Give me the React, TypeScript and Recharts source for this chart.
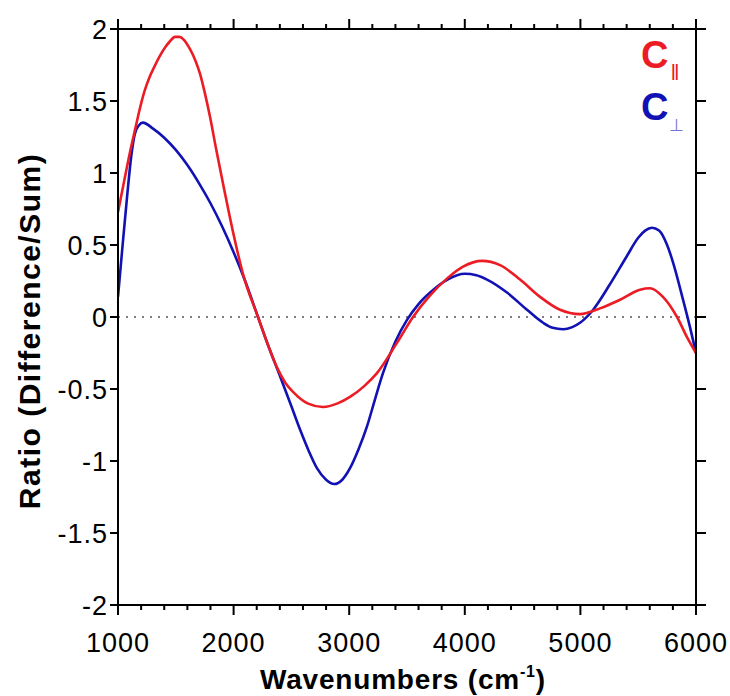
import React from 'react';
import { LineChart, Line, XAxis, YAxis, ReferenceLine, Legend } from 'recharts';

// C parallel (red)
const parallelWavenumbers = [
  1000, 1050, 1100, 1150, 1190, 1230, 1270, 1310, 1360, 1410, 1450, 1493, 1530, 1570, 1623,
  1670, 1709, 1750, 1796, 1848, 1920, 1995, 2081, 2211, 2300, 2375, 2450, 2514, 2640, 2773,
  2900, 3007, 3130, 3240, 3413, 3552, 3700, 3850, 3985, 4149, 4305, 4478, 4651, 4824, 4997,
  5170, 5343, 5516, 5602, 5714, 5836, 5922, 6000,
];
const parallelRatio = [
  0.73, 0.93, 1.13, 1.31, 1.45, 1.57, 1.66, 1.73, 1.81, 1.875, 1.915, 1.945, 1.945, 1.925, 1.86,
  1.78, 1.69, 1.56, 1.39, 1.17, 0.88, 0.59, 0.3, 0.0, -0.2, -0.35, -0.46, -0.52, -0.6, -0.625,
  -0.6, -0.555, -0.48, -0.39, -0.18, 0.0, 0.15, 0.27, 0.35, 0.39, 0.36, 0.26, 0.14, 0.05, 0.02,
  0.06, 0.12, 0.19, 0.2, 0.14, 0.0, -0.14, -0.25,
];

// C perpendicular (blue)
const perpWavenumbers = [
  1000, 1040, 1078, 1115, 1145, 1180, 1216, 1300, 1400, 1500, 1600, 1700, 1800, 1900, 2000,
  2100, 2211, 2300, 2401, 2500, 2574, 2650, 2721, 2800, 2870, 2940, 3007, 3080, 3154, 3220,
  3292, 3400, 3500, 3600, 3700, 3850, 4000, 4100, 4192, 4365, 4538, 4677, 4760, 4850, 4930,
  4997, 5100, 5250, 5400, 5500, 5560, 5619, 5680, 5750, 5801, 5888, 5948, 6000,
];
const perpRatio = [
  0.14, 0.5, 0.83, 1.12, 1.27, 1.33, 1.35, 1.31, 1.245, 1.16, 1.055, 0.93, 0.79, 0.63, 0.45,
  0.25, 0.0, -0.2, -0.41, -0.62, -0.78, -0.93, -1.05, -1.13, -1.16, -1.13, -1.05, -0.92, -0.76, -0.58,
  -0.39, -0.17, -0.02, 0.09, 0.17, 0.26, 0.3, 0.29, 0.26, 0.17, 0.05, -0.04, -0.075, -0.085, -0.07,
  -0.04, 0.04, 0.22, 0.42, 0.55, 0.6, 0.62, 0.6, 0.5, 0.38, 0.12, -0.07, -0.25,
];

const xTicks = [
  1000, 1200, 1400, 1600, 1800, 2000, 2200, 2400, 2600, 2800, 3000, 3200, 3400, 3600, 3800,
  4000, 4200, 4400, 4600, 4800, 5000, 5200, 5400, 5600, 5800, 6000,
];
const yTicks = [-2, -1.5, -1, -0.5, 0, 0.5, 1, 1.5, 2];

const RED = '#ec1c24';
const BLUE = '#1212b4';
const FONT = '"Liberation Sans", Arial, sans-serif';

const parallelData = parallelWavenumbers.map((x, i) => ({ x, y: parallelRatio[i] }));
const perpData = perpWavenumbers.map((x, i) => ({ x, y: perpRatio[i] }));

const isMajor = (v: number) => v % 1000 === 0;

const BottomTick = ({ x, y, payload }: any) => (
  <g>
    <line x1={x} x2={x} y1={y} y2={y + (isMajor(payload.value) ? 10 : 5)} stroke="#000" strokeWidth={2} />
    {isMajor(payload.value) && (
      <text x={x} y={y + 47} textAnchor="middle" fontFamily={FONT} fontSize={27} letterSpacing={1} fill="#000">
        {payload.value}
      </text>
    )}
  </g>
);

const TopTick = ({ x, y, payload }: any) => (
  <line x1={x} x2={x} y1={y} y2={y - (isMajor(payload.value) ? 10 : 5)} stroke="#000" strokeWidth={2} />
);

const LeftTick = ({ x, y, payload }: any) => (
  <g>
    <line x1={x} x2={x - 8} y1={y} y2={y} stroke="#000" strokeWidth={2} />
    <text x={x - 10} y={y + 9.5} textAnchor="end" fontFamily={FONT} fontSize={27} letterSpacing={1} fill="#000">
      {payload.value}
    </text>
  </g>
);

const RightTick = ({ x, y }: any) => (
  <line x1={x} x2={x + 10} y1={y} y2={y} stroke="#000" strokeWidth={2} />
);

const XTitle = ({ viewBox }: any) => (
  <text x={viewBox.x + viewBox.width / 2 - 4} y={viewBox.y + 84} textAnchor="middle" fontFamily={FONT} fontWeight="bold" fontSize={28} letterSpacing={0.8} fill="#000">
    Wavenumbers (cm
    <tspan dy={-12} fontSize={16}>-1</tspan>
    <tspan dy={12}>)</tspan>
  </text>
);

const YTitle = ({ viewBox }: any) => {
  const cx = 29;
  const cy = viewBox.y + viewBox.height / 2 + 14;
  return (
    <text x={cx} y={cy} transform={`rotate(-90 ${cx} ${cy})`} textAnchor="middle" dominantBaseline="central" fontFamily={FONT} fontWeight="bold" fontSize={30} letterSpacing={1.5} fill="#000">
      Ratio (Difference/Sum)
    </text>
  );
};

const SeriesKey = () => (
  <div style={{ fontFamily: FONT, fontWeight: 'bold', lineHeight: 1 }}>
    <div style={{ color: RED, fontSize: 38, height: 52, whiteSpace: 'nowrap' }}>
      C<span style={{ fontSize: 22, fontWeight: 'normal', position: 'relative', top: 12, marginLeft: 2 }}>‖</span>
    </div>
    <div style={{ color: BLUE, fontSize: 38, whiteSpace: 'nowrap' }}>
      C<span style={{ fontSize: 17, fontWeight: 'normal', position: 'relative', top: 11, marginLeft: 1, color: '#7474dc' }}>⊥</span>
    </div>
  </div>
);

export default function App() {
  return (
    <div style={{ position: 'absolute', left: 0, top: 0, width: 730, height: 696, background: '#fff' }}>
      <LineChart width={730} height={696} margin={{ top: 28, right: 33, bottom: 0, left: 0 }}>
        <XAxis
          xAxisId="bottom"
          dataKey="x"
          type="number"
          domain={[1000, 6000]}
          ticks={xTicks}
          interval={0}
          height={91}
          tickSize={0}
          tickMargin={0}
          tickLine={false}
          tick={<BottomTick />}
          axisLine={{ stroke: '#000', strokeWidth: 2 }}
          label={<XTitle />}
          allowDataOverflow
        />
        <XAxis
          xAxisId="top"
          orientation="top"
          dataKey="x"
          type="number"
          domain={[1000, 6000]}
          ticks={xTicks}
          interval={0}
          height={1}
          tickSize={0}
          tickMargin={0}
          tickLine={false}
          tick={<TopTick />}
          axisLine={{ stroke: '#000', strokeWidth: 2 }}
          allowDataOverflow
        />
        <YAxis
          yAxisId="left"
          type="number"
          domain={[-2, 2]}
          ticks={yTicks}
          interval={0}
          width={118}
          tickSize={0}
          tickMargin={0}
          tickLine={false}
          tick={<LeftTick />}
          axisLine={{ stroke: '#000', strokeWidth: 2 }}
          label={<YTitle />}
          allowDataOverflow
        />
        <YAxis
          yAxisId="right"
          orientation="right"
          type="number"
          domain={[-2, 2]}
          ticks={yTicks}
          interval={0}
          width={1}
          tickSize={0}
          tickMargin={0}
          tickLine={false}
          tick={<RightTick />}
          axisLine={{ stroke: '#000', strokeWidth: 2 }}
          allowDataOverflow
        />
        <ReferenceLine xAxisId="bottom" yAxisId="left" y={0} stroke="#555" strokeWidth={1.6} strokeDasharray="2 6" />
        <Line
          xAxisId="bottom"
          yAxisId="left"
          data={perpData}
          dataKey="y"
          type="monotone"
          stroke={BLUE}
          strokeWidth={2.6}
          dot={false}
          isAnimationActive={false}
        />
        <Line
          xAxisId="bottom"
          yAxisId="left"
          data={parallelData}
          dataKey="y"
          type="monotone"
          stroke={RED}
          strokeWidth={2.6}
          dot={false}
          isAnimationActive={false}
        />
        <Legend
          layout="horizontal"
          verticalAlign="middle"
          align="center"
          content={<SeriesKey />}
          wrapperStyle={{ left: 641, top: 36, width: 70 }}
        />
      </LineChart>
    </div>
  );
}
